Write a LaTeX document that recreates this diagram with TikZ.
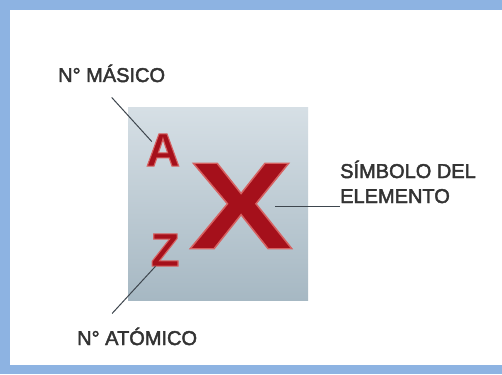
\documentclass[tikz,border=0pt]{standalone}
\usepackage{fontspec}
\usepackage{graphicx}
\setmainfont{Liberation Sans}
\definecolor{framecol}{HTML}{8DB3E2}
\definecolor{sqtop}{HTML}{D6DFE5}
\definecolor{sqbot}{HTML}{A6B8C3}
\definecolor{elred}{HTML}{A5101B}
\definecolor{labtext}{HTML}{333333}
\definecolor{leader}{HTML}{3E464E}
% outlined (fill + stroke) text
\newcommand{\glowtext}[2]{\special{pdf:literal direct q 2 Tr #1}#2\special{pdf:literal direct Q}}
\tikzset{
  letter/.style={inner sep=0pt, text=elred},
  label/.style={inner sep=0pt, text=labtext, font=\fontsize{20}{25}\selectfont},
  leaderline/.style={draw=leader, line width=1pt}
}
\begin{document}
\begin{tikzpicture}[x=1pt,y=-1pt]
\fill[framecol] (0,0) rectangle (502,374);
\fill[white] (10,10) rectangle (502,365);
\useasboundingbox (0,0) rectangle (502,374);
% element square
\shade[top color=sqtop, bottom color=sqbot] (128,108) rectangle (308,300);
% letters
\node[letter, font=\bfseries\fontsize{47}{47}\selectfont] (A) at (163,150) {\glowtext{1.1 w 0.84 0.38 0.38 RG}{A}};
\node[letter, font=\bfseries\fontsize{47}{47}\selectfont] (Z) at (165,250) {\glowtext{1.1 w 0.84 0.38 0.38 RG}{Z}};
\node[letter, font=\bfseries\fontsize{124}{124}\selectfont] (X) at (241,206) {\scalebox{1.26}[1]{\glowtext{1.3 w 0.84 0.38 0.38 RG}{X}}};
% labels
\node[label, anchor=base west] (lblmas) at (58,82) {\glowtext{0.45 w 0.2 0.2 0.2 RG}{N° MÁSICO}};
\node[label, anchor=base west] (lblat) at (77,345) {\glowtext{0.45 w 0.2 0.2 0.2 RG}{N° ATÓMICO}};
\node[label, anchor=base west, align=left] (lblsym) at (340,203) {\glowtext{0.45 w 0.2 0.2 0.2 RG}{SÍMBOLO DEL}\\\glowtext{0.45 w 0.2 0.2 0.2 RG}{ELEMENTO}};
% leaders
\draw[leaderline] ([yshift=-15pt]lblmas.south) -- ([xshift=6pt,yshift=-8pt]A.north west);
\draw[leaderline] ([xshift=5pt]Z.south west) -- ([xshift=-25pt,yshift=14pt]lblat.north);
\draw[leaderline] ([xshift=-18pt]X.east) -- (X.east -| lblsym.west);
\end{tikzpicture}
\end{document}
